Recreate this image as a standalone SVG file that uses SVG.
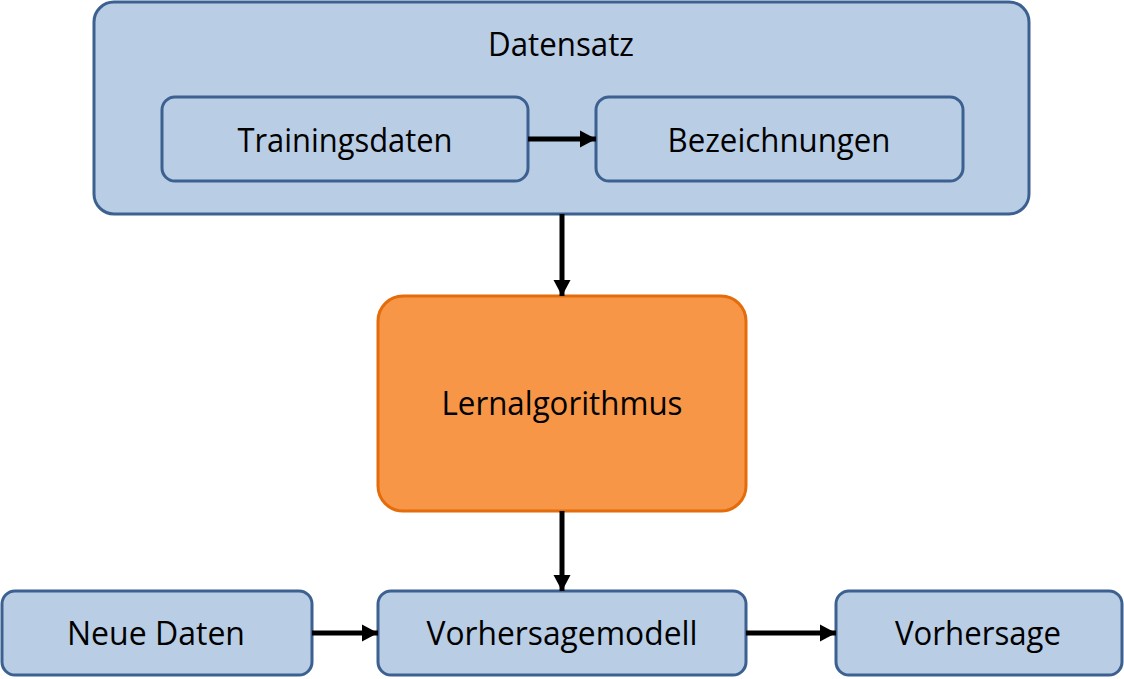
<svg xmlns="http://www.w3.org/2000/svg" width="1124" height="679" viewBox="0 0 1124 679">
<style>
.blue{fill:#b9cde5;stroke:#3c6090;stroke-width:3}
.orange{fill:#f79646;stroke:#e46c0a;stroke-width:3}
.lbl{font-family:"Open Sans","Noto Sans",sans-serif;font-size:32px;fill:#000;text-anchor:middle}
.con{stroke:#000;stroke-width:5;fill:none;marker-end:url(#ah)}
</style>
<defs>
<marker id="ah" markerUnits="userSpaceOnUse" markerWidth="17" markerHeight="18" refX="16" refY="8.5" orient="auto" viewBox="0 0 17 17">
<path d="M0,0 L16,8.5 L0,17 z" fill="#000"/>
</marker>
</defs>
<rect width="1124" height="679" fill="#fff"/>
<g id="datensatz">
<rect class="blue" x="94" y="2" width="935" height="212" rx="20"/>
<text class="lbl" x="561" y="56" textLength="146" lengthAdjust="spacingAndGlyphs">Datensatz</text>
</g>
<g id="trainingsdaten">
<rect class="blue" x="162" y="97" width="366" height="84" rx="13"/>
<text class="lbl" x="345" y="152" textLength="215" lengthAdjust="spacingAndGlyphs">Trainingsdaten</text>
</g>
<g id="bezeichnungen">
<rect class="blue" x="596" y="97" width="367" height="84" rx="13"/>
<text class="lbl" x="779" y="152" textLength="223" lengthAdjust="spacingAndGlyphs">Bezeichnungen</text>
</g>
<g id="lernalgorithmus">
<rect class="orange" x="378" y="296" width="368" height="215" rx="25"/>
<text class="lbl" x="562" y="415" textLength="241" lengthAdjust="spacingAndGlyphs">Lernalgorithmus</text>
</g>
<g id="neuedaten">
<rect class="blue" x="2" y="591" width="310" height="84" rx="13"/>
<text class="lbl" x="156" y="645" textLength="178" lengthAdjust="spacingAndGlyphs">Neue Daten</text>
</g>
<g id="vorhersagemodell">
<rect class="blue" x="378" y="591" width="368" height="84" rx="13"/>
<text class="lbl" x="562" y="645" textLength="271" lengthAdjust="spacingAndGlyphs">Vorhersagemodell</text>
</g>
<g id="vorhersage">
<rect class="blue" x="836" y="591" width="286" height="84" rx="13"/>
<text class="lbl" x="978" y="645" textLength="166" lengthAdjust="spacingAndGlyphs">Vorhersage</text>
</g>
<g id="connectors">
<line class="con" x1="528" y1="139" x2="596" y2="139"/>
<line class="con" x1="562" y1="214" x2="562" y2="296"/>
<line class="con" x1="562" y1="511" x2="562" y2="591"/>
<line class="con" x1="312" y1="633" x2="378" y2="633"/>
<line class="con" x1="746" y1="633" x2="836" y2="633"/>
</g>
</svg>
